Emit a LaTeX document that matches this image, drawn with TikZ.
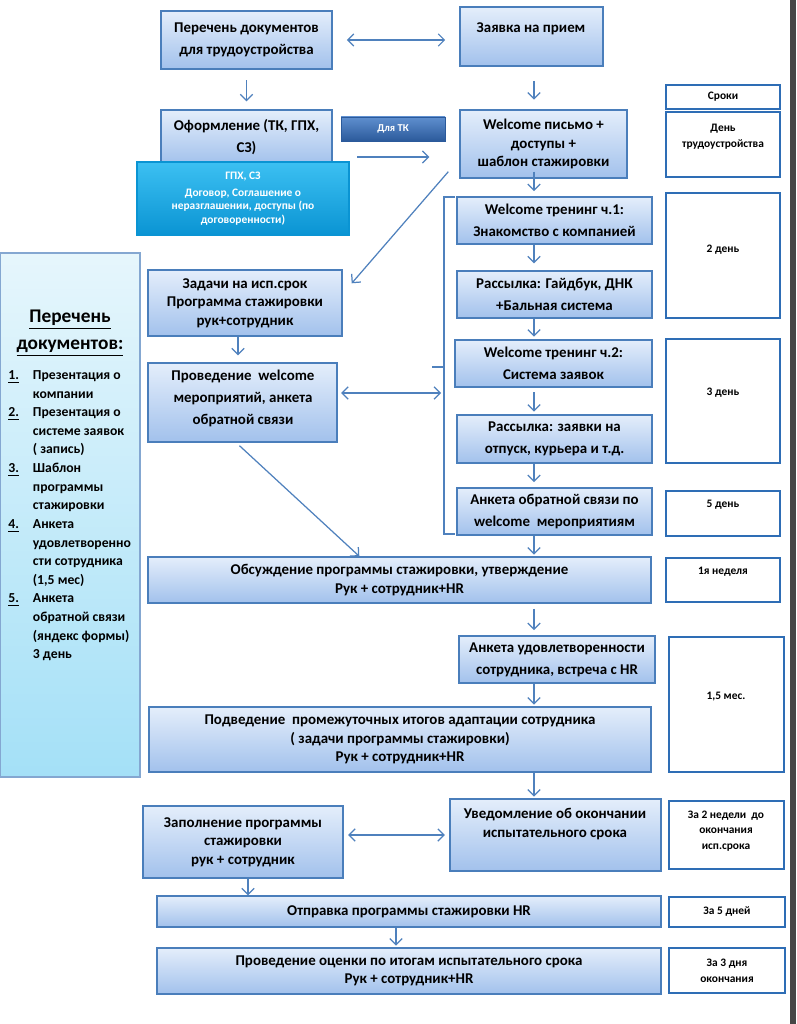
\documentclass[tikz,border=0pt]{standalone}
\usepackage{fontspec}
\setmainfont{Carlito}
\usepackage{tikz}
\usetikzlibrary{arrows.meta, calc, fit}
\definecolor{ramka}{HTML}{4A7EBB}
\definecolor{boxtop}{HTML}{E4EEFB}
\definecolor{boxbot}{HTML}{A2C1EC}
\definecolor{strelka}{HTML}{4F81BD}
\definecolor{srok}{HTML}{2E6DB5}
\definecolor{goltop}{HTML}{3CC0F2}
\definecolor{golbot}{HTML}{0A94D3}
\definecolor{tktop}{HTML}{5F8FCF}
\definecolor{tkbot}{HTML}{2B5A9B}
\definecolor{paneltop}{HTML}{E6F6FC}
\definecolor{panelbot}{HTML}{A4E0F7}

\tikzset{
  box/.style={draw=ramka, line width=0.8pt, top color=boxtop, bottom color=boxbot, inner sep=0pt},
  srokbox/.style={draw=srok, line width=1.4pt, fill=white, inner sep=0pt},
  sroktxt/.style={align=center, inner sep=0pt, font=\bfseries\fontsize{6.5}{9}\selectfont},
  txt/.style={align=center, inner sep=0pt, font=\bfseries\fontsize{8.5}{10.5}\selectfont},
  beltxt/.style={align=center, inner sep=0pt, text=white, font=\bfseries\fontsize{6.5}{7.8}\selectfont},
  arr/.style={strelka, line width=0.7pt, -{Straight Barb[length=3.5pt,width=7pt]}},
  dbl/.style={strelka, line width=0.7pt,
    {Straight Barb[length=3.5pt,width=7pt]}-{Straight Barb[length=3.5pt,width=7pt]}},
}

\begin{document}
\begin{tikzpicture}[x=0.02cm, y=-0.02cm]
    \useasboundingbox (0,0) rectangle (796,1024);
    \fill[white] (0,0) rectangle (796,1024);
    \fill[gray!55!black] (790,0) rectangle (796,1024);

    % левая панель
    \node[draw=strelka!70, line width=0.6pt, top color=paneltop, bottom color=panelbot,
      inner sep=0pt, fit={(0,253) (140,777)}] (panel) {};
    \node[align=center, inner sep=0pt, font=\bfseries\fontsize{11}{15.3}\selectfont]
      (zagolovok) at (70,333) {\underline{Перечень}\\\underline{документов:}};
    \node[anchor=north west, inner sep=0pt, font=\bfseries\fontsize{7.8}{10.6}\selectfont]
      (spisok) at (8,366) {%
      \begin{tabular}{@{}p{14pt}@{}l@{}}
        \underline{1.} & Презентация о\\
                       & компании\\
        \underline{2.} & Презентация о\\
                       & системе заявок\\
                       & ( запись)\\
        \underline{3.} & Шаблон\\
                       & программы\\
                       & стажировки\\
        \underline{4.} & Анкета\\
                       & удовлетворенно\\
                       & сти сотрудника\\
                       & (1,5 мес)\\
        \underline{5.} & Анкета\\
                       & обратной связи\\
                       & (яндекс формы)\\
                       & 3 день
      \end{tabular}};

    % основной поток
    \node[box, fit={(161,11) (332,69)}] (A) {};
    \node[txt] (At) at (A.center) {Перечень документов\\[2pt]для трудоустройства};
    \node[box, fit={(460,7) (603,66)}] (B) {};
    \node[txt] (Bt) at (531,29) {Заявка на прием};
    \node[box, fit={(161,110) (332,164)}] (C) {};
    \node[txt] (Ct) at (C.center) {Оформление (ТК, ГПХ,\\[2pt]СЗ)};
    \node[draw=golbot, line width=0.6pt, top color=goltop, bottom color=golbot, inner sep=0pt,
      fit={(137,162) (349,235)}] (D) {};
    \node[beltxt] (Dt) at (D.center) {ГПХ, СЗ\\[2pt]Договор, Соглашение о\\неразглашении, доступы (по\\договоренности)};
    \node[draw=tkbot, line width=0.5pt, top color=tktop, bottom color=tkbot, inner sep=0pt,
      fit={(341,117) (445,141)}] (E) {};
    \node[beltxt, font=\bfseries\fontsize{6}{7}\selectfont] (Et) at (E.center) {Для ТК};
    \node[box, fit={(460,110) (627,178)}] (F) {};
    \node[txt] (Ft) at (F.center) {Welcome письмо +\\доступы +\\шаблон стажировки};
    \node[box, fit={(457,197) (652,244)}] (G) {};
    \node[txt] (Gt) at (G.center) {Welcome тренинг ч.1:\\[2pt]Знакомство с компанией};
    \node[box, fit={(457,271) (652,318)}] (H) {};
    \node[txt] (Ht) at (H.center) {Рассылка: Гайдбук, ДНК\\[2pt]+Бальная система};
    \node[box, fit={(455,340) (652,387)}] (I) {};
    \node[txt] (It) at (I.center) {Welcome тренинг ч.2:\\[2pt]Система заявок};
    \node[box, fit={(457,415) (652,463)}] (J) {};
    \node[txt] (Jt) at (J.center) {Рассылка: заявки на\\[2pt]отпуск, курьера и т.д.};
    \node[box, fit={(457,488) (652,535)}] (K) {};
    \node[txt] (Kt) at (K.center) {Анкета обратной связи по\\[2pt]welcome~~мероприятиям};
    \node[box, fit={(148,270) (342,336)}] (L) {};
    \node[txt] (Lt) at (L.center) {Задачи на исп.срок\\Программа стажировки\\рук+сотрудник};
    \node[box, fit={(148,363) (337,442)}] (M) {};
    \node[txt] (Mt) at (243,398) {Проведение~~welcome\\[2pt]мероприятий, анкета\\[2pt]обратной связи};
    \node[box, fit={(148,557) (651,603)}] (N) {};
    \node[txt] (Nt) at (N.center) {Обсуждение программы стажировки, утверждение\\Рук + сотрудник+HR};
    \node[box, fit={(459,636) (655,683)}] (O) {};
    \node[txt] (Ot) at (O.center) {Анкета удовлетворенности\\[2pt]сотрудника, встреча с HR};
    \node[box, fit={(149,707) (651,772)}] (P) {};
    \node[txt] (Pt) at (P.center) {Подведение~~промежуточных итогов адаптации сотрудника\\( задачи программы стажировки)\\Рук + сотрудник+HR};
    \node[box, fit={(450,799) (661,871)}] (Q) {};
    \node[txt] (Qt) at (555,824) {Уведомление об окончании\\испытательного срока};
    \node[box, fit={(143,806) (343,878)}] (R) {};
    \node[txt] (Rt) at (R.center) {Заполнение программы\\стажировки\\рук + сотрудник};
    \node[box, fit={(157,896) (661,927)}] (S) {};
    \node[txt] (St) at (S.center) {Отправка программы стажировки HR};
    \node[box, fit={(157,948) (661,994)}] (T) {};
    \node[txt] (Tt) at (T.center) {Проведение оценки по итогам испытательного срока\\Рук + сотрудник+HR};

    % сроки
    \node[srokbox, fit={(666,85) (780,109)}] (s0) {};
    \node[sroktxt] (s0t) at (723,97) {Сроки};
    \node[srokbox, fit={(666,112) (780,177)}] (s1) {};
    \node[sroktxt] (s1t) at (723,137) {День\\трудоустройства};
    \node[srokbox, fit={(666,193) (780,318)}] (s2) {};
    \node[sroktxt] (s2t) at (723,250) {2 день};
    \node[srokbox, fit={(666,339) (780,463)}] (s3) {};
    \node[sroktxt] (s3t) at (723,393) {3 день};
    \node[srokbox, fit={(666,491) (780,536)}] (s4) {};
    \node[sroktxt] (s4t) at (723,505) {5 день};
    \node[srokbox, fit={(666,558) (780,602)}] (s5) {};
    \node[sroktxt] (s5t) at (723,572) {1я неделя};
    \node[srokbox, fit={(669,637) (784,772)}] (s6) {};
    \node[sroktxt] (s6t) at (726,697) {1,5 мес.};
    \node[srokbox, fit={(669,801) (784,869)}] (s7) {};
    \node[sroktxt] (s7t) at (726,831) {За 2 недели~~до\\окончания\\исп.срока};
    \node[srokbox, fit={(669,897) (785,927)}] (s8) {};
    \node[sroktxt] (s8t) at (727,912) {За 5 дней};
    \node[srokbox, fit={(669,948) (785,993)}] (s9) {};
    \node[sroktxt] (s9t) at (727,971) {За 3 дня\\окончания};

    % оси стрелок
    \coordinate (os) at (534,0);
    \coordinate (ls) at (238,0);
    \coordinate (rs) at (248,0);
    \coordinate (st) at (396,0);
    \coordinate (brTop) at (444,197);
    \coordinate (brBot) at (444,534);
    \coordinate (brMid) at (441,393);

    % скобка
    \draw[strelka, line width=0.7pt] ($(brTop)+(11,0)$) -- (brTop) -- (brBot) -- ($(brBot)+(11,0)$);
    \draw[strelka, line width=0.7pt] (432,367) -- (444,367);

    % стрелки
    \draw[dbl, shorten <=8pt, shorten >=8pt] (A.east) -- (A.east -| B.west);
    \draw[arr, shorten <=6pt, shorten >=4.5pt] (A.south) -- (C.north);
    \draw[arr, shorten <=8pt, shorten >=5.5pt] (B.south -| os) -- (F.north -| os);
    \draw[arr, shorten <=14pt, shorten >=17pt] ($(C.east)+(0,20)$) -- ($(C.east -| F.west)+(0,20)$);
    \draw[arr, shorten >=3pt] ($(F.south -| os)+(0,-7)$) -- (G.north -| os);
    \draw[arr, shorten >=4pt] (G.south -| os) -- (H.north -| os);
    \draw[arr, shorten >=1.5pt] (H.south -| os) -- (I.north -| os);
    \draw[arr, shorten <=2.5pt, shorten >=1.5pt] (I.south -| os) -- (J.north -| os);
    \draw[arr, shorten >=3pt] (J.south -| os) -- (K.north -| os);
    \draw[arr, shorten >=1pt] (K.south -| os) -- (N.north -| os);
    \draw[arr] ($(F.south west)+(-11,-7)$) -- ($(L.north east)+(9,14)$);
    \draw[arr, shorten >=4pt] (L.south -| ls) -- (M.north -| ls);
    \draw[dbl, shorten <=2pt] (M.east |- brMid) -- (brMid);
    \draw[arr] ($(M.south)+(-3,3)$) -- ($(N.north west)+(212,0)$);
    \draw[arr, shorten <=3pt, shorten >=3pt] (N.south -| os) -- (O.north -| os);
    \draw[arr, shorten >=1pt] (O.south -| os) -- (P.north -| os);
    \draw[arr, shorten >=1pt] (P.south -| os) -- (Q.north -| os);
    \draw[dbl, shorten <=2.5pt, shorten >=2.5pt] (Q.west -| R.east) -- (Q.west);
    \draw[arr] (R.south -| rs) -- (S.north -| rs);
    \draw[arr, shorten >=1pt] (S.south -| st) -- (T.north -| st);
\end{tikzpicture}
\end{document}
